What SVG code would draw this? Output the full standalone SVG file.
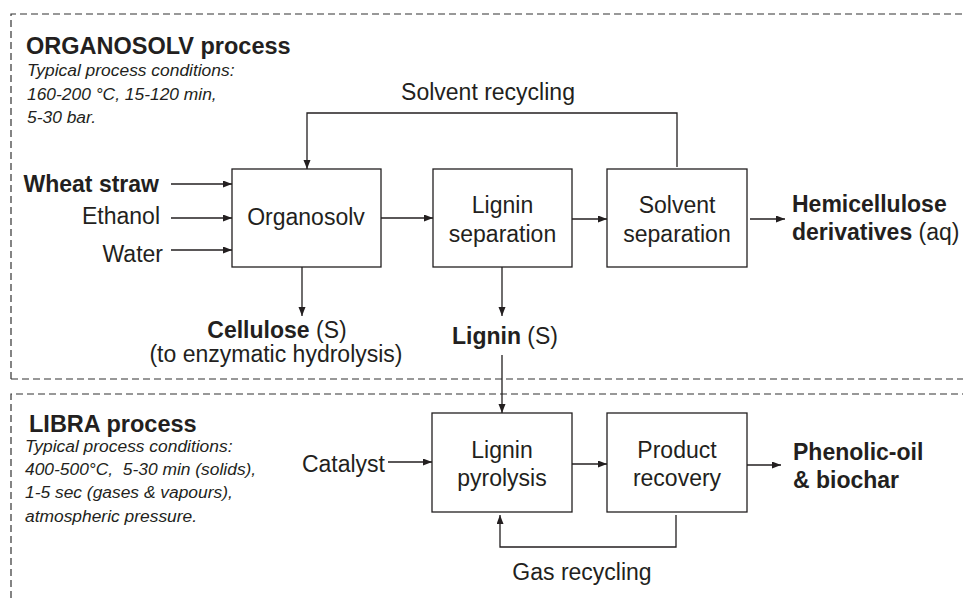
<svg xmlns="http://www.w3.org/2000/svg" width="963" height="598" viewBox="0 0 963 598">
<defs>
<marker id="ah" markerWidth="10" markerHeight="8" refX="9" refY="3.5" orient="auto" markerUnits="userSpaceOnUse">
<path d="M0,0 L9,3.5 L0,7 z" fill="#231f20"/>
</marker>
<style>
text{font-family:"Liberation Sans",Arial,sans-serif;fill:#231f20}
.t{font-size:23px}
.h{font-size:23.5px;font-weight:bold}
.i{font-size:17.4px;font-style:italic}
.b{font-weight:bold}
.c{text-anchor:middle}
.r{text-anchor:end}
.box{fill:#fff;stroke:#231f20;stroke-width:1.3}
.dash{fill:none;stroke:#333;stroke-width:1.2;stroke-dasharray:7 4}
.ar{fill:none;stroke:#231f20;stroke-width:1.3;marker-end:url(#ah)}
</style>
</defs>
<rect width="963" height="598" fill="#fff"/>

<g id="frames">
<path class="dash" d="M11,379 L11,14 L963,14"/>
<path class="dash" d="M11,379 L963,379"/>
<path class="dash" d="M11,598 L11,394 L963,394"/>
</g>

<g id="organosolv-title">
<text class="h" x="26" y="54">ORGANOSOLV process</text>
<text class="i" x="27" y="76">Typical process conditions:</text>
<text class="i" x="27" y="100">160-200 °C, 15-120 min,</text>
<text class="i" x="27" y="123">5-30 bar.</text>
</g>

<g id="libra-title">
<text class="h" x="29" y="432">LIBRA process</text>
<text class="i" x="25" y="452">Typical process conditions:</text>
<text class="i" x="25" y="475">400-500°C, &#160;5-30 min (solids),</text>
<text class="i" x="25" y="498">1-5 sec (gases &amp; vapours),</text>
<text class="i" x="25" y="522">atmospheric pressure.</text>
</g>

<g id="connectors">
<path class="ar" d="M677,167 L677,113 L307,113 L307,169"/>
<path class="ar" d="M171,184 L232,184"/>
<path class="ar" d="M171,218 L232,218"/>
<path class="ar" d="M171,250 L232,250"/>
<path class="ar" d="M381,218 L433,218"/>
<path class="ar" d="M572,219 L607,219"/>
<path class="ar" d="M750,219 L785,219"/>
<path class="ar" d="M302,267 L302,316"/>
<path class="ar" d="M502,267 L502,316"/>
<path class="ar" d="M502,355 L502,413"/>
<path class="ar" d="M388,462 L432,462"/>
<path class="ar" d="M572,464 L607,464"/>
<path class="ar" d="M747,465 L781,465"/>
<path class="ar" d="M676,515 L676,547 L500,547 L500,515"/>
</g>

<g id="solvent-recycling-label"><text class="t c" x="488" y="100">Solvent recycling</text></g>

<g id="inputs">
<text class="t b r" x="159" y="192">Wheat straw</text>
<text class="t r" x="160" y="224">Ethanol</text>
<text class="t r" x="163" y="262">Water</text>
</g>

<g id="organosolv">
<rect class="box" x="232" y="169" width="149" height="98"/>
<text class="t c" x="306" y="225">Organosolv</text>
</g>

<g id="lignin-separation">
<rect class="box" x="433" y="169" width="139" height="98"/>
<text class="t c" x="502.5" y="213">Lignin</text>
<text class="t c" x="502.5" y="242">separation</text>
</g>

<g id="solvent-separation">
<rect class="box" x="607" y="169" width="140" height="98"/>
<text class="t c" x="677" y="213">Solvent</text>
<text class="t c" x="677" y="242">separation</text>
</g>

<g id="hemicellulose">
<text class="t b" x="792" y="212">Hemicellulose</text>
<text class="t" x="792" y="240"><tspan class="b">derivatives</tspan> (aq)</text>
</g>

<g id="cellulose">
<text class="t c" x="277" y="338"><tspan class="b">Cellulose</tspan> (S)</text>
<text class="t c" x="276" y="362">(to enzymatic hydrolysis)</text>
</g>

<g id="lignin">
<text class="t c" x="505" y="344"><tspan class="b">Lignin</tspan> (S)</text>
</g>

<g id="catalyst"><text class="t r" x="385" y="472">Catalyst</text></g>

<g id="lignin-pyrolysis">
<rect class="box" x="432" y="413" width="140" height="99"/>
<text class="t c" x="502" y="458">Lignin</text>
<text class="t c" x="502" y="486">pyrolysis</text>
</g>

<g id="product-recovery">
<rect class="box" x="607" y="413" width="140" height="99"/>
<text class="t c" x="677" y="458">Product</text>
<text class="t c" x="677" y="486">recovery</text>
</g>

<g id="phenolic">
<text class="t b" x="793" y="460">Phenolic-oil</text>
<text class="t b" x="793" y="488">&amp; biochar</text>
</g>

<g id="gas-recycling-label"><text class="t c" x="582" y="580">Gas recycling</text></g>
</svg>
